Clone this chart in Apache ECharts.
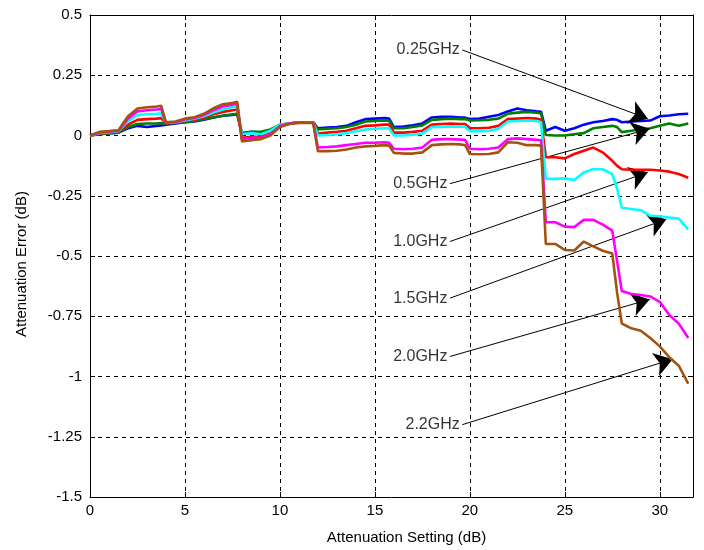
<!DOCTYPE html>
<html><head><meta charset="utf-8">
<script src="https://cdn.jsdelivr.net/npm/echarts@6/dist/echarts.min.js"></script>
<style>html,body{margin:0;padding:0;background:#fff}#c{width:704px;height:550px}</style>
</head><body><div id="c"></div>
<script>
const xSetting = [0,0.5,1,1.5,2,2.5,3,3.5,3.75,4,4.5,5,5.5,6,6.5,7,7.5,7.75,8,8.5,9,9.5,10,10.5,11,11.5,11.75,12,12.5,13,13.5,14,14.5,15,15.5,15.75,16,16.5,17,17.5,18,18.5,19,19.5,19.75,20,20.5,21,21.5,22,22.5,23,23.5,23.75,24,24.5,25,25.5,26,26.5,27,27.5,27.75,28,28.5,29,29.5,30,30.5,31,31.5];

const err025GHz = [0,0.005,0.01,0.012,0.03,0.04,0.035,0.04,0.042,0.045,0.05,0.055,0.058,0.065,0.075,0.082,0.085,0.088,0.01,0.015,0.012,0.02,0.04,0.05,0.055,0.055,0.055,0.03,0.033,0.035,0.04,0.055,0.068,0.07,0.072,0.07,0.035,0.037,0.042,0.05,0.075,0.078,0.078,0.075,0.074,0.068,0.07,0.078,0.085,0.1,0.112,0.105,0.1,0.098,0.02,0.035,0.02,0.03,0.045,0.055,0.06,0.068,0.065,0.055,0.058,0.06,0.062,0.08,0.083,0.088,0.09];
const err05GHz = [0,0.005,0.008,0.012,0.035,0.048,0.05,0.05,0.052,0.05,0.052,0.055,0.06,0.068,0.075,0.082,0.088,0.09,0.005,0.015,0.015,0.025,0.045,0.05,0.055,0.055,0.055,0.025,0.028,0.03,0.035,0.045,0.058,0.06,0.062,0.06,0.03,0.03,0.035,0.042,0.065,0.068,0.07,0.068,0.068,0.062,0.063,0.065,0.07,0.09,0.095,0.098,0.095,0.092,0.002,0.0,0.0,0.005,0.01,0.03,0.035,0.04,0.035,0.014,0.02,0.025,0.03,0.04,0.05,0.04,0.05];
const err10GHz = [0,0.008,0.012,0.015,0.045,0.065,0.068,0.07,0.072,0.05,0.055,0.06,0.065,0.075,0.088,0.098,0.105,0.108,-0.01,-0.005,-0.005,0.01,0.04,0.05,0.055,0.055,0.055,0.008,0.012,0.015,0.02,0.03,0.04,0.042,0.045,0.045,0.012,0.012,0.015,0.02,0.045,0.048,0.05,0.048,0.048,0.03,0.03,0.032,0.04,0.068,0.07,0.072,0.07,0.065,-0.09,-0.09,-0.095,-0.077,-0.063,-0.05,-0.07,-0.105,-0.125,-0.14,-0.142,-0.142,-0.142,-0.145,-0.15,-0.16,-0.175];
const err15GHz = [0,0.01,0.014,0.018,0.06,0.085,0.088,0.09,0.092,0.052,0.055,0.062,0.07,0.08,0.095,0.108,0.118,0.12,0.005,0.01,0.005,0.02,0.045,0.05,0.055,0.055,0.055,0.0,0.002,0.005,0.01,0.018,0.025,0.028,0.03,0.03,0.0,0.0,0.003,0.008,0.035,0.035,0.038,0.036,0.036,0.018,0.018,0.02,0.028,0.058,0.06,0.062,0.06,0.055,-0.18,-0.18,-0.178,-0.185,-0.153,-0.139,-0.14,-0.16,-0.22,-0.3,-0.305,-0.31,-0.333,-0.335,-0.34,-0.345,-0.39];
const err20GHz = [0,0.012,0.016,0.02,0.07,0.1,0.105,0.108,0.11,0.053,0.056,0.066,0.073,0.085,0.105,0.12,0.128,0.132,-0.015,-0.01,-0.01,0.005,0.04,0.05,0.055,0.055,0.055,-0.05,-0.048,-0.045,-0.04,-0.035,-0.03,-0.03,-0.028,-0.03,-0.055,-0.057,-0.055,-0.05,-0.018,-0.015,-0.015,-0.017,-0.018,-0.055,-0.057,-0.055,-0.05,-0.015,-0.012,-0.015,-0.018,-0.02,-0.36,-0.36,-0.378,-0.38,-0.35,-0.35,-0.37,-0.395,-0.52,-0.645,-0.658,-0.662,-0.668,-0.69,-0.745,-0.78,-0.84];
const err22GHz = [0,0.015,0.018,0.022,0.08,0.112,0.117,0.12,0.123,0.055,0.058,0.07,0.076,0.09,0.113,0.13,0.135,0.14,-0.025,-0.02,-0.015,0.0,0.035,0.048,0.052,0.052,0.052,-0.065,-0.065,-0.063,-0.058,-0.05,-0.045,-0.043,-0.04,-0.042,-0.072,-0.075,-0.075,-0.07,-0.04,-0.037,-0.035,-0.037,-0.04,-0.077,-0.078,-0.077,-0.07,-0.028,-0.03,-0.04,-0.04,-0.042,-0.45,-0.45,-0.475,-0.477,-0.44,-0.46,-0.478,-0.49,-0.65,-0.78,-0.8,-0.81,-0.84,-0.875,-0.92,-0.955,-1.03];

const seriesNames = ['0.25GHz','0.5GHz','1.0GHz','1.5GHz','2.0GHz','2.2GHz'];
const seriesColors = ['#0000ff','#008000','#ff0000','#00ffff','#ff00ff','#a5520f'];
const seriesValues = [err025GHz, err05GHz, err10GHz, err15GHz, err20GHz, err22GHz];

const annoText = ['0.25GHz','0.5GHz','1.0GHz','1.5GHz','2.0GHz','2.2GHz'];
const annoFrom = [[19.6,0.355],[18.95,-0.2],[18.95,-0.44],[18.95,-0.675],[18.95,-0.917],[19.6,-1.2]];
const annoTo = [[29.37,0.07],[29.47,0.028],[29.37,-0.153],[30.35,-0.347],[29.47,-0.68],[30.68,-0.928]];

const FONT = 'Arial, "Liberation Sans", sans-serif';
const chart = echarts.init(document.getElementById('c'));

const series = seriesValues.map((vals, i) => ({
  type: 'line',
  name: seriesNames[i],
  data: xSetting.map((x, k) => [x, vals[k]]),
  showSymbol: false,
  symbol: 'none',
  lineStyle: { color: seriesColors[i], width: 2.6 },
  itemStyle: { color: seriesColors[i] },
  z: 3 + i
}));

series.push({
  type: 'scatter',
  name: 'annotations',
  data: annoFrom.map((p, i) => ({ value: p, name: annoText[i] })),
  symbolSize: 1,
  itemStyle: { color: 'rgba(0,0,0,0)' },
  label: {
    show: true, position: 'left', distance: 2,
    formatter: p => p.name,
    color: '#000', fontFamily: FONT, fontSize: 16
  },
  markLine: {
    silent: true,
    symbol: ['none', 'arrow'],
    symbolSize: 18,
    label: { show: false },
    lineStyle: { color: '#000', width: 1, type: 'solid' },
    data: annoFrom.map((p, i) => [{ coord: p }, { coord: annoTo[i] }])
  },
  z: 20
});

const axisCommon = {
  axisLine: { show: true, onZero: false, lineStyle: { color: '#000', width: 1 } },
  axisTick: { show: true, inside: true, length: 5, lineStyle: { color: '#000' } }
};

chart.setOption({
  animation: false,
  backgroundColor: '#fff',
  grid: { left: 90, right: 11, top: 15, bottom: 53 },
  xAxis: [
    Object.assign({
      type: 'value', min: 0, max: 31.75, interval: 5, position: 'bottom',
      name: 'Attenuation Setting (dB)', nameLocation: 'middle', nameGap: 33,
      nameTextStyle: { color: '#000', fontFamily: FONT, fontSize: 15, padding: [0, 0, 0, 30] },
      axisLabel: { color: '#000', fontFamily: FONT, fontSize: 15, margin: 6, showMaxLabel: false },
      splitLine: { show: true, lineStyle: { color: '#000', width: 1, type: [4, 4] } }
    }, axisCommon),
    Object.assign({
      type: 'value', min: 0, max: 31.75, interval: 5, position: 'top',
      axisLabel: { show: false }, splitLine: { show: false }
    }, axisCommon)
  ],
  yAxis: [
    Object.assign({
      type: 'value', min: -1.5, max: 0.5, interval: 0.25, position: 'left',
      name: 'Attenuation Error (dB)', nameLocation: 'middle', nameGap: 61,
      nameTextStyle: { color: '#000', fontFamily: FONT, fontSize: 15, padding: [0, 16, 0, 0] },
      axisLabel: { color: '#000', fontFamily: FONT, fontSize: 15, margin: 8 },
      splitLine: { show: true, lineStyle: { color: '#000', width: 1, type: [4, 4] } }
    }, axisCommon),
    Object.assign({
      type: 'value', min: -1.5, max: 0.5, interval: 0.25, position: 'right',
      axisLabel: { show: false }, splitLine: { show: false }
    }, axisCommon)
  ],
  series: series
});
</script>
</body></html>
